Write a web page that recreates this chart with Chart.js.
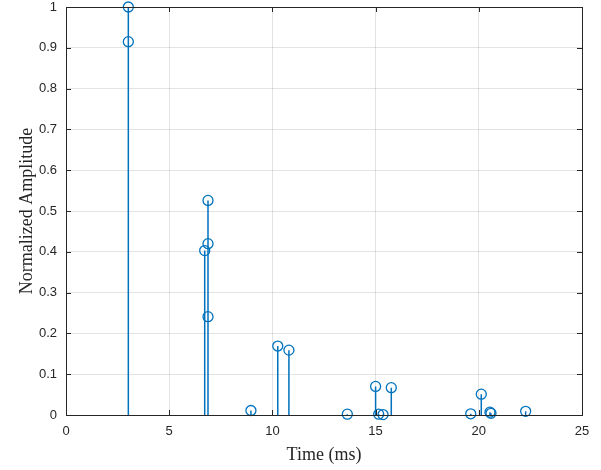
<!DOCTYPE html>
<html>
<head>
<meta charset="utf-8">
<script src="https://cdn.jsdelivr.net/npm/chart.js@4/dist/chart.umd.min.js"></script>
<style>
  html, body { margin: 0; padding: 0; background: #fff; }
  #wrap { width: 601px; height: 470px; }
</style>
</head>
<body>
<div id="wrap"><canvas id="graph"></canvas></div>
<script>
// peak times (ms) and normalized amplitudes
const times = [3.02, 3.02, 6.88, 6.88, 6.72, 6.88, 8.96, 10.26, 10.80, 13.63, 15.00, 15.15, 15.36, 15.76, 19.61, 20.12, 20.54, 20.59, 22.27];
const amps  = [1.000, 0.915, 0.526, 0.420, 0.403, 0.241, 0.011, 0.169, 0.159, 0.002, 0.070, 0.002, 0.001, 0.067, 0.003, 0.051, 0.007, 0.004, 0.009];

const xTicks = [0, 5, 10, 15, 20, 25];
const yTicks = [0, 0.1, 0.2, 0.3, 0.4, 0.5, 0.6, 0.7, 0.8, 0.9, 1];
const yTickLabels = ['0', '0.1', '0.2', '0.3', '0.4', '0.5', '0.6', '0.7', '0.8', '0.9', '1'];

const blue = '#0072BD';
const axisColor = '#262626';

// stems: baseline -> peak, broken by a null point
const stemData = [];
times.forEach((t, i) => {
    stemData.push({x: t, y: 0});
    stemData.push({x: t, y: amps[i]});
    stemData.push({x: t, y: null});
});
const headData = times.map((t, i) => ({x: t, y: amps[i]}));

// box around the axes with inward ticks on all four sides (matlab style)
const boxTicks = {
    id: 'boxTicks',
    afterDatasetsDraw(chart) {
        const {ctx, chartArea: {left, right, top, bottom}, scales: {x, y}} = chart;
        const len = 5;
        ctx.save();
        ctx.strokeStyle = axisColor;
        ctx.lineWidth = 1;
        ctx.beginPath();
        xTicks.forEach(v => {
            const px = Math.round(x.getPixelForValue(v)) + 0.5;
            ctx.moveTo(px, bottom); ctx.lineTo(px, bottom - len);
            ctx.moveTo(px, top); ctx.lineTo(px, top + len);
        });
        yTicks.forEach(v => {
            const py = Math.round(y.getPixelForValue(v)) + 0.5;
            ctx.moveTo(left, py); ctx.lineTo(left + len, py);
            ctx.moveTo(right, py); ctx.lineTo(right - len, py);
        });
        ctx.stroke();
        ctx.strokeRect(Math.round(left) + 0.5, Math.round(top) + 0.5, Math.round(right - left), Math.round(bottom - top));
        ctx.restore();
    }
};

const graph = document.querySelector('#graph').getContext('2d');

new Chart(graph, {
    type: 'scatter',
    data: {
        datasets: [
            {
                label: 'peaks',
                data: headData,
                pointStyle: 'circle',
                pointRadius: 5,
                pointHoverRadius: 5,
                pointBorderWidth: 1.3,
                pointBorderColor: blue,
                pointBackgroundColor: 'rgba(0,0,0,0)',
                showLine: false,
                clip: false
            },
            {
                label: 'stems',
                data: stemData,
                showLine: true,
                spanGaps: false,
                borderColor: blue,
                borderWidth: 1.5,
                pointRadius: 0,
                pointHoverRadius: 0
            }
        ]
    },
    options: {
        responsive: true,
        maintainAspectRatio: false,
        animation: false,
        events: [],
        layout: {
            padding: {top: 7, right: 19, left: 0, bottom: 0}
        },
        scales: {
            x: {
                type: 'linear',
                min: 0,
                max: 25,
                afterBuildTicks: (scale) => { scale.ticks = xTicks.map(v => ({value: v})); },
                afterFit: (scale) => {
                    scale.height = 55;
                    scale.paddingLeft = 0;
                    scale.paddingRight = 0;
                },
                grid: {
                    color: 'rgba(38,38,38,0.13)',
                    drawTicks: false
                },
                border: {display: false},
                ticks: {
                    padding: 9,
                    color: axisColor,
                    font: {family: '"Liberation Sans", Arial, sans-serif', size: 13}
                },
                title: {
                    display: true,
                    text: 'Time (ms)',
                    color: axisColor,
                    padding: {top: 0},
                    font: {family: '"Liberation Serif", "Times New Roman", serif', size: 18}
                }
            },
            y: {
                type: 'linear',
                min: 0,
                max: 1,
                afterBuildTicks: (scale) => { scale.ticks = yTicks.map(v => ({value: v})); },
                afterFit: (scale) => {
                    scale.width = 66;
                    scale.paddingTop = 0;
                    scale.paddingBottom = 0;
                },
                grid: {
                    color: 'rgba(38,38,38,0.13)',
                    drawTicks: false
                },
                border: {display: false},
                ticks: {
                    padding: 9,
                    color: axisColor,
                    font: {family: '"Liberation Sans", Arial, sans-serif', size: 13},
                    callback: (value) => yTickLabels[yTicks.findIndex(v => Math.abs(v - value) < 1e-9)]
                },
                title: {
                    display: true,
                    text: 'Normalized Amplitude',
                    color: axisColor,
                    padding: {top: 16, bottom: 0},
                    font: {family: '"Liberation Serif", "Times New Roman", serif', size: 18}
                }
            }
        },
        plugins: {
            legend: {display: false},
            tooltip: {enabled: false}
        }
    },
    plugins: [boxTicks]
});
</script>
</body>
</html>
